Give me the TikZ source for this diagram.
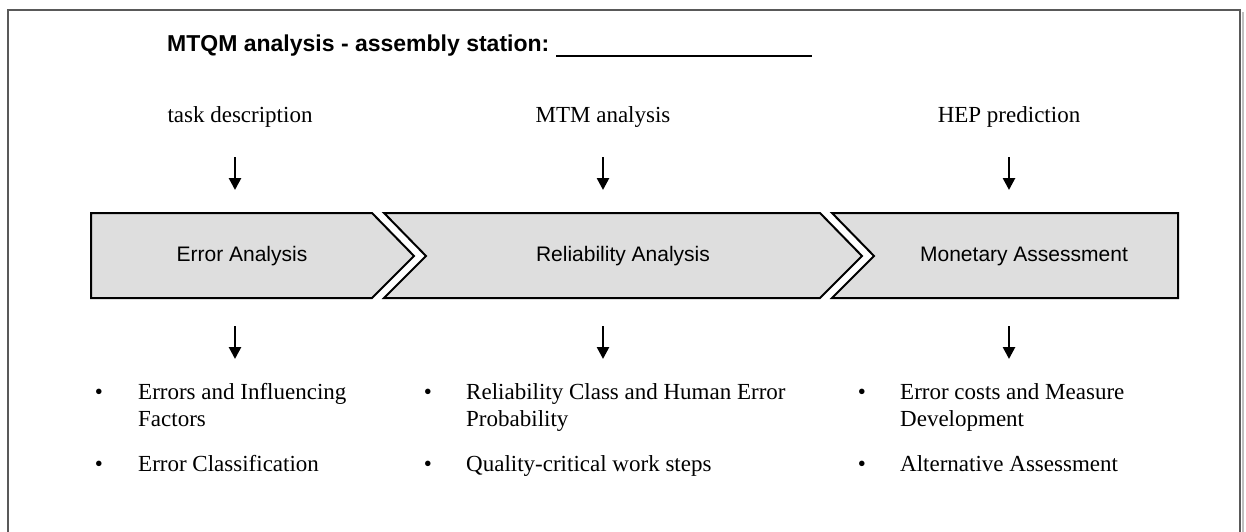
\documentclass[tikz,border=0pt]{standalone}
\usepackage{fontspec}
\setmainfont{Liberation Serif}
\newfontfamily\arialfont{Liberation Sans}
\usetikzlibrary{arrows.meta}

\tikzset{
  headline/.style={font=\arialfont\bfseries\fontsize{23}{27}\selectfont, inner sep=0pt, anchor=base west},
  toplabel/.style={font=\fontsize{23}{27}\selectfont, inner sep=0pt, anchor=base},
  chevron/.style={draw=black, line width=2pt, fill=\BOXFILL, line join=miter},
  phase/.style={font=\arialfont\fontsize{21}{25}\selectfont, inner sep=0pt},
  itemtext/.style={font=\fontsize{23}{27}\selectfont, inner sep=0pt, anchor=base west},
  itemdot/.style={font=\fontsize{23}{27}\selectfont, inner sep=0pt, anchor=base},
  down/.style={-{Triangle[width=12pt,length=12pt]}, line width=2.6pt}
}

\begin{document}
\begin{tikzpicture}[x=1pt,y=-1pt]

\def\BOXFILL{black!13}
	\useasboundingbox (0,0) rectangle (1246,532);
	% frame
	\draw[black!25, line width=2pt] (1242.5,12) -- (1242.5,532);
	\draw[black!65, line width=1.5pt] (8,532) -- (8,10) -- (1240,10) -- (1240,532);

	% title
	\node[headline] (title) at (167,52) {MTQM analysis - assembly station:};
	\coordinate (blankL) at (556,56);
	\coordinate (blankR) at (812,56);
	\draw[line width=2pt] (blankL) -- (blankR);

	% inputs
	\node[toplabel] (task) at (240,122) {task description};
	\node[toplabel] (mtm) at (603,122) {MTM analysis};
	\node[toplabel] (hep) at (1009,122) {HEP prediction};

	\coordinate (taskA) at (235,157);
	\coordinate (taskB) at (235,190);
	\coordinate (mtmA) at (603,157);
	\coordinate (mtmB) at (603,190);
	\coordinate (hepA) at (1009,157);
	\coordinate (hepB) at (1009,190);
	\draw[down] (taskA) -- (taskB);
	\draw[down] (mtmA) -- (mtmB);
	\draw[down] (hepA) -- (hepB);

	% phases
	\draw[chevron] (91,213) -- (372,213) -- (414,256) -- (372,298) -- (91,298) -- cycle;
	\draw[chevron] (384,213) -- (820,213) -- (862,256) -- (820,298) -- (384,298) -- (426,256) -- cycle;
	\draw[chevron] (832,213) -- (1178,213) -- (1178,298) -- (832,298) -- (874,256) -- cycle;
	\node[phase] (error) at (242,256) {Error Analysis};
	\node[phase] (reliab) at (623,256) {Reliability Analysis};
	\node[phase] (money) at (1024,256) {Monetary Assessment};

	\coordinate (errorA) at (235,326);
	\coordinate (errorB) at (235,359);
	\coordinate (reliabA) at (603,326);
	\coordinate (reliabB) at (603,359);
	\coordinate (moneyA) at (1009,326);
	\coordinate (moneyB) at (1009,359);
	\draw[down] (errorA) -- (errorB);
	\draw[down] (reliabA) -- (reliabB);
	\draw[down] (moneyA) -- (moneyB);

	% results
	\node[itemdot] (dotA1) at (99,399) {\textbullet};
	\node[itemtext] (resA1) at (138,399) {Errors and Influencing};
	\node[itemtext] (resA1b) at (138,426) {Factors};
	\node[itemdot] (dotA2) at (99,471) {\textbullet};
	\node[itemtext] (resA2) at (138,471) {Error Classification};

	\node[itemdot] (dotB1) at (428,399) {\textbullet};
	\node[itemtext] (resB1) at (466,399) {Reliability Class and Human Error};
	\node[itemtext] (resB1b) at (466,426) {Probability};
	\node[itemdot] (dotB2) at (428,471) {\textbullet};
	\node[itemtext] (resB2) at (466,471) {Quality-critical work steps};

	\node[itemdot] (dotC1) at (862,399) {\textbullet};
	\node[itemtext] (resC1) at (900,399) {Error costs and Measure};
	\node[itemtext] (resC1b) at (900,426) {Development};
	\node[itemdot] (dotC2) at (862,471) {\textbullet};
	\node[itemtext] (resC2) at (900,471) {Alternative Assessment};

\end{tikzpicture}
\end{document}
